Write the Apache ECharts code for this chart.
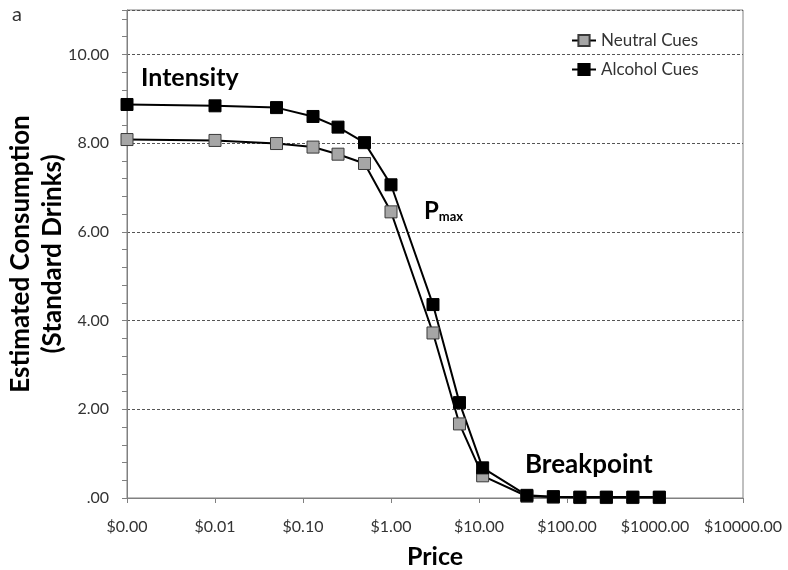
<!DOCTYPE html>
<html>
<head>
<meta charset="utf-8">
<script src="https://cdn.jsdelivr.net/npm/echarts@6/dist/echarts.min.js"></script>
<style>
  html, body { margin: 0; padding: 0; background: #fff; }
  #chart { width: 788px; height: 570px; }
</style>
</head>
<body>
<div id="chart"></div>
<script>
// price per drink; the $0 price is drawn at the left end of the log axis (0.001)
const prices = [0.001, 0.01, 0.05, 0.13, 0.25, 0.5, 1, 3, 6, 11, 35, 70, 140, 280, 560, 1120]
const neutralCues = [8.08, 8.06, 7.99, 7.91, 7.75, 7.54, 6.45, 3.72, 1.67, 0.50, 0.04, 0.02, 0.01, 0.01, 0.01, 0.01]
const alcoholCues = [8.87, 8.84, 8.80, 8.60, 8.36, 8.01, 7.06, 4.36, 2.15, 0.68, 0.06, 0.03, 0.02, 0.02, 0.02, 0.02]
const yTicks = [0, 2, 4, 6, 8, 10]

const font = 'Lato, "Open Sans", sans-serif'

function pairs (ys) {
  return prices.map((p, i) => [p, ys[i]])
}

const myChart = echarts.init(document.getElementById('chart'))

const option = {
  animation: false,
  backgroundColor: '#fff',
  textStyle: { fontFamily: font },
  grid: {
    left: 127,
    right: 45,
    top: 10,
    bottom: 72,
    outerBoundsMode: 'none',
    show: true,
    borderColor: '#808080',
    borderWidth: 1
  },
  legend: {
    orient: 'vertical',
    left: 566,
    top: 27,
    itemGap: 12,
    itemWidth: 24,
    itemHeight: 14,
    textStyle: { fontFamily: font, fontSize: 17, color: '#333' },
    data: ['Neutral Cues', 'Alcohol Cues']
  },
  xAxis: {
    type: 'log',
    logBase: 10,
    min: 0.001,
    max: 10000,
    name: 'Price',
    nameLocation: 'middle',
    nameGap: 46,
    nameMoveOverlap: false,
    nameTextStyle: { fontFamily: font, fontSize: 25, fontWeight: 'bold', color: '#000' },
    axisLine: { lineStyle: { color: '#808080', width: 1 } },
    axisTick: { show: true, length: 5, lineStyle: { color: '#808080' } },
    axisLabel: {
      margin: 21,
      fontSize: 16,
      color: '#333',
      formatter: v => '$' + Number(v).toFixed(2)
    },
    splitLine: { show: false }
  },
  yAxis: {
    type: 'value',
    min: 0,
    max: 11,
    interval: 2,
    name: 'Estimated Consumption\n(Standard Drinks)',
    nameLocation: 'middle',
    nameGap: 58,
    nameMoveOverlap: false,
    nameRotate: 90,
    nameTextStyle: { fontFamily: font, fontSize: 26, fontWeight: 'bold', color: '#000', lineHeight: 32 },
    axisLine: { show: true, lineStyle: { color: '#808080', width: 1 } },
    axisTick: { show: true, length: 5, lineStyle: { color: '#808080' } },
    minorTick: { show: true, splitNumber: 5, length: 5, lineStyle: { color: '#808080' } },
    axisLabel: {
      margin: 18,
      fontSize: 16,
      color: '#333',
      formatter: v => {
        if (!yTicks.includes(v)) return ''
        return v === 0 ? '.00' : v.toFixed(2)
      }
    },
    splitLine: { show: true, lineStyle: { color: '#555', type: [3, 2], width: 1 } }
  },
  graphic: [
    { type: 'text', left: 12, top: 5, style: { text: 'a', fontFamily: font, fontSize: 20, fill: '#333' } },
    { type: 'text', left: 141, top: 65, style: { text: 'Intensity', fontFamily: font, fontSize: 25, fontWeight: 'bold', fill: '#000' } },
    {
      type: 'text',
      left: 424,
      top: 199,
      style: {
        text: '{p|P}{s|max}',
        rich: {
          p: { fontFamily: font, fontSize: 24, fontWeight: 'bold', fill: '#000', verticalAlign: 'bottom' },
          s: { fontFamily: font, fontSize: 13, fontWeight: 'bold', fill: '#000', padding: [8, 0, 0, 0], verticalAlign: 'bottom' }
        }
      }
    },
    { type: 'text', left: 525, top: 452, style: { text: 'Breakpoint', fontFamily: font, fontSize: 26, fontWeight: 'bold', fill: '#000' } }
  ],
  series: [
    {
      name: 'Neutral Cues',
      type: 'line',
      data: pairs(neutralCues),
      symbol: 'rect',
      symbolSize: 12,
      lineStyle: { color: '#000', width: 2 },
      itemStyle: { color: '#a6a6a6', borderColor: '#3a3a3a', borderWidth: 1 }
    },
    {
      name: 'Alcohol Cues',
      type: 'line',
      data: pairs(alcoholCues),
      symbol: 'rect',
      symbolSize: 12,
      lineStyle: { color: '#000', width: 2 },
      itemStyle: { color: '#000', borderColor: '#000', borderWidth: 1 }
    }
  ]
}

myChart.setOption(option)
</script>
</body>
</html>
